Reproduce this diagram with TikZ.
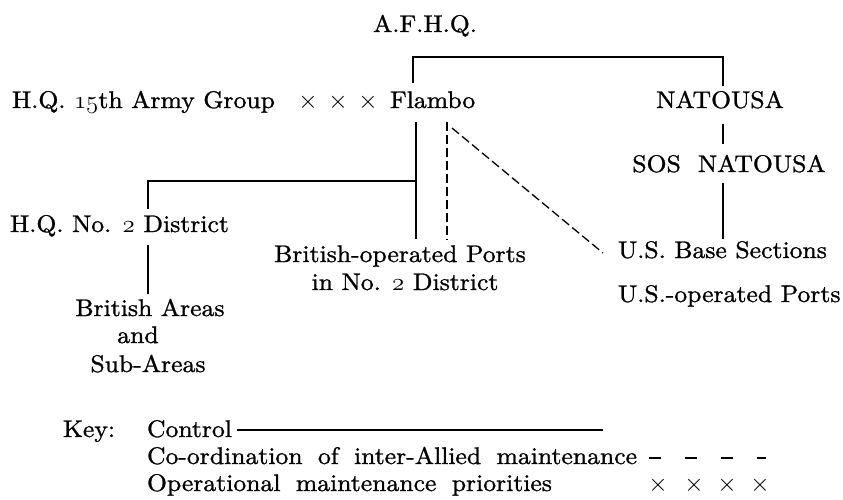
\documentclass[tikz,border=0pt]{standalone}
\usepackage{fontspec}
\setmainfont{lmroman10-regular.otf}[FakeStretch=1.07,FakeBold=1.1]
% same face with wider word spaces, for the key
\newfontfamily\keyfont{lmroman10-regular.otf}[FakeStretch=1.07,FakeBold=1.1,WordSpace=1.8]
\usetikzlibrary{calc}
% old-style figures taken from the math italic font
\newcommand\osnum[1]{{\usefont{OML}{cmm}{m}{it}#1}}
\begin{document}
\begin{tikzpicture}[x=1pt,y=-1pt,
  lbl/.style={inner sep=0pt, outer sep=0pt, font=\fontsize{24}{28}\selectfont},
  keytext/.style={lbl, anchor=base west, font=\fontsize{24}{28}\keyfont},
  ctrl/.style={line width=2.4pt, draw=black},
  coordline/.style={line width=1.3pt, draw=black, dash pattern=on 9pt off 4pt},
  keydash/.style={line width=1.3pt, draw=black, dash pattern=on 12pt off 24pt},
]
\fill[white] (0,0) rectangle (843,499);
\useasboundingbox (0,0) rectangle (843,499);

% headquarters and commands
\node[lbl, anchor=base] (afhq) at (425,32) {A.F.H.Q.};
\node[lbl, anchor=base west] (hq15) at (12,108) {H.Q. \osnum{15}th Army Group};
\foreach \i/\x in {1/308,2/338,3/368}
  \node[lbl] (ox\i) at (\x,102) {$\times$};
\node[lbl, anchor=base west] (flambo) at (390,108) {Flambo};
\node[lbl, anchor=base] (natousa) at (720,108) {NATOUSA};
\node[lbl, anchor=base] (sos) at (729,172) {SOS\ \ NATOUSA};
\node[lbl, anchor=base west] (hq2) at (10,232) {H.Q. No. \osnum{2} District};
\node[lbl, anchor=base] (bop1) at (400,262) {British-operated Ports};
\node[lbl, anchor=base] (bop2) at (405,290) {in No. \osnum{2} District};
\node[lbl, anchor=base west] (usb) at (618,258) {U.S. Base Sections};
\node[lbl, anchor=base west] (usp) at (618,302) {U.S.-operated Ports};
\node[lbl, anchor=base] (ba1) at (150,316) {British Areas};
\node[lbl, anchor=base] (ba2) at (138,343) {and};
\node[lbl, anchor=base] (ba3) at (148,372) {Sub-Areas};

% x positions of the vertical connectors
\coordinate (lx) at (413,0);
\coordinate (rx) at (723,0);
\coordinate (fx) at (416,0);
\coordinate (dx) at (447,0);
\coordinate (bx) at (148,0);
\coordinate (topbar) at (0,57);
\coordinate (midbar) at (0,181);

% control lines
\draw[ctrl, shorten <=8pt, shorten >=5pt]
  (flambo.north -| lx) -- (topbar -| lx) -- (topbar -| rx) -- (natousa.north -| rx);
\draw[ctrl, shorten <=15pt, shorten >=11pt] (natousa.south -| rx) -- (sos.north -| rx);
\draw[ctrl, shorten <=10pt, shorten >=2pt] (sos.south -| rx) -- (usb.north -| rx);
\draw[ctrl, shorten <=14pt, shorten >=6pt] (flambo.south -| fx) -- (bop1.north -| fx);
\draw[ctrl, shorten >=6pt] (midbar -| fx) -- (midbar -| bx) -- (hq2.north -| bx);
\draw[ctrl, shorten <=8pt, shorten >=5pt] (hq2.south -| bx) -- (ba1.north -| bx);

% co-ordination lines
\draw[coordline, shorten <=14pt, shorten >=6pt] (flambo.south -| dx) -- (bop1.north -| dx);
\draw[coordline] ($(flambo.base west)+(62,20)$) -- ($(usb.base west)+(-15,-5)$);

% key
\node[keytext] (key) at (63,437) {Key:};
\node[keytext] (kc) at (147,437) {Control};
\node[keytext] (kco) at (147,464) {Co-ordination of inter-Allied maintenance};
\node[keytext] (kop) at (147,491) {Operational maintenance priorities};
\coordinate (kcend) at (603,430);
\coordinate (kdstart) at (649,458);
\coordinate (kdend) at (766,458);
\draw[ctrl, line width=2pt] ($(kc.base east)+(5,-7)$) -- (kcend);
\draw[keydash] (kdstart) -- (kdend);
\foreach \i/\x in {1/658,2/694,3/727,4/760}
  \node[lbl] (kx\i) at (\x,485) {$\times$};
\end{tikzpicture}
\end{document}
